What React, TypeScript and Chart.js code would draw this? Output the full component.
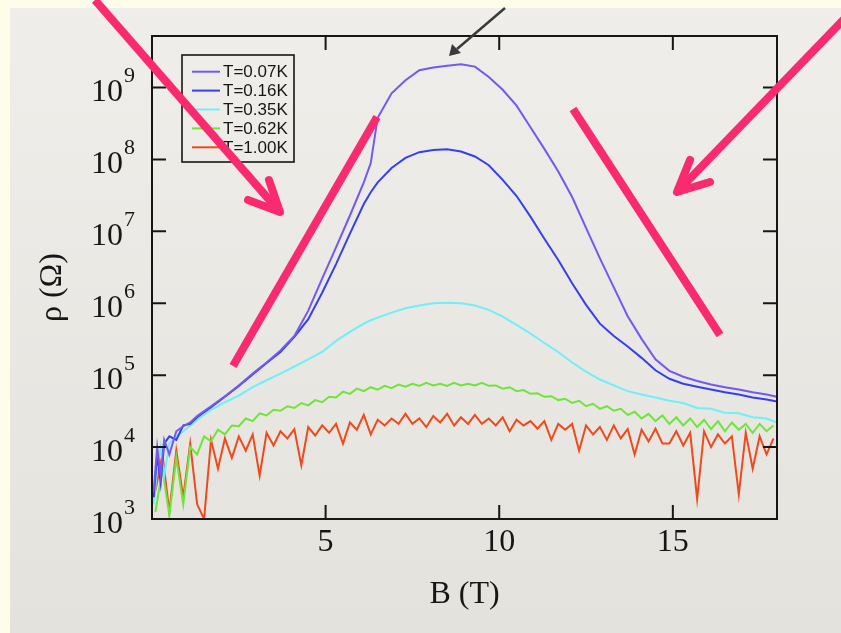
import React, { useEffect, useRef } from "react";
import { Chart, registerables } from "chart.js";

Chart.register(...registerables);

// Magnetic field grid (T) for the smoother low-temperature curves
const bSmooth = [
  0.05, 0.15, 0.25, 0.35, 0.5, 0.7, 0.9, 1.1, 1.3, 1.7, 2.1, 2.5, 2.9, 3.3, 3.7, 4.1, 4.5, 4.9, 5.3, 5.7, 6.1, 6.3,
  6.5, 6.9, 7.3, 7.7, 8.1, 8.5, 8.9, 9.3, 9.7, 10.1, 10.5, 10.9, 11.3, 11.7, 12.1, 12.5, 12.9, 13.3, 13.7, 14.1,
  14.5, 14.9, 15.3, 15.7, 16.1, 16.5, 16.9, 17.3, 17.7, 18.0,
];

// rho (Ohm) at T = 0.07 K
const rho007 = [
  2.5e3, 1.0e4, 4.0e3, 1.26e4, 7.9e3, 1.66e4, 1.95e4, 2.2e4, 2.7e4, 3.7e4, 5.1e4, 7.2e4, 1.05e5, 1.5e5, 2.2e5,
  3.5e5, 7.9e5, 2.2e6, 6.0e6, 1.66e7, 4.8e7, 8.9e7, 3.8e8, 8.3e8, 1.26e9, 1.74e9, 1.9e9, 2.0e9, 2.1e9, 1.95e9,
  1.4e9, 9.3e8, 5.6e8, 2.8e8, 1.4e8, 6.8e7, 3.0e7, 1.12e7, 4.2e6, 1.66e6, 6.6e5, 3.2e5, 1.66e5, 1.15e5, 9.5e4,
  8.3e4, 7.4e4, 6.8e4, 6.3e4, 5.8e4, 5.4e4, 5.0e4,
];

// rho (Ohm) at T = 0.16 K
const rho016 = [
  2.0e3, 7.9e3, 3.2e3, 1.12e4, 1.41e4, 1.26e4, 2.0e4, 2.1e4, 2.6e4, 3.6e4, 5.0e4, 7.1e4, 1.02e5, 1.48e5, 2.1e5,
  3.4e5, 6.0e5, 1.4e6, 3.5e6, 9.3e6, 2.4e7, 3.5e7, 4.8e7, 7.6e7, 1.05e8, 1.26e8, 1.35e8, 1.38e8, 1.29e8, 1.1e8,
  8.3e7, 5.2e7, 3.1e7, 1.6e7, 7.9e6, 4.0e6, 1.9e6, 9.5e5, 5.2e5, 3.5e5, 2.5e5, 1.74e5, 1.17e5, 8.9e4, 7.6e4,
  6.9e4, 6.3e4, 5.8e4, 5.4e4, 4.9e4, 4.6e4, 4.3e4,
];

// rho (Ohm) at T = 0.35 K
const rho035 = [
  1.6e3, 5.0e3, 1.0e4, 4.0e3, 1.12e4, 1.41e4, 1.66e4, 2.0e4, 2.4e4, 3.3e4, 4.2e4, 5.2e4, 6.8e4, 8.5e4, 1.05e5,
  1.32e5, 1.66e5, 2.1e5, 3.0e5, 4.0e5, 5.2e5, 5.8e5, 6.3e5, 7.4e5, 8.5e5, 9.3e5, 1.0e6, 1.02e6, 1.0e6, 9.3e5,
  8.1e5, 6.5e5, 5.0e5, 3.8e5, 2.8e5, 2.1e5, 1.5e5, 1.12e5, 8.7e4, 7.2e4, 6.0e4, 5.4e4, 4.9e4, 4.4e4, 4.1e4,
  3.5e4, 3.4e4, 3.0e4, 2.95e4, 2.6e4, 2.5e4, 2.2e4,
];

// Magnetic field grid (T) for the noisy higher-temperature curves
const bNoisy = [
  0.1, 0.3, 0.5, 0.7, 0.9, 1.1, 1.3, 1.5, 1.7, 1.9,
  2.1, 2.3, 2.5, 2.7, 2.9, 3.1, 3.3, 3.5, 3.7, 3.9,
  4.1, 4.3, 4.5, 4.7, 4.9, 5.1, 5.3, 5.5, 5.7, 5.9,
  6.1, 6.3, 6.5, 6.7, 6.9, 7.1, 7.3, 7.5, 7.7, 7.9,
  8.1, 8.3, 8.5, 8.7, 8.9, 9.1, 9.3, 9.5, 9.7, 9.9,
  10.1, 10.3, 10.5, 10.7, 10.9, 11.1, 11.3, 11.5, 11.7, 11.9,
  12.1, 12.3, 12.5, 12.7, 12.9, 13.1, 13.3, 13.5, 13.7, 13.9,
  14.1, 14.3, 14.5, 14.7, 14.9, 15.1, 15.3, 15.5, 15.7, 15.9,
  16.1, 16.3, 16.5, 16.7, 16.9, 17.1, 17.3, 17.5, 17.7, 17.9,
];

// rho (Ohm) at T = 0.62 K
const rho062 = [
  1.26e3, 5.0e3, 1.12e3, 7.1e3, 1.6e3, 1.0e4, 7.9e3, 1.41e4, 1.2e4, 1.74e4,
  1.5e4, 2.0e4, 1.95e4, 2.5e4, 2.3e4, 2.95e4, 2.75e4, 3.3e4, 3.2e4, 3.7e4,
  3.5e4, 4.1e4, 3.8e4, 4.5e4, 4.2e4, 5.0e4, 4.9e4, 5.9e4, 5.5e4, 6.5e4,
  6.0e4, 6.8e4, 6.3e4, 7.1e4, 6.6e4, 7.4e4, 6.9e4, 7.6e4, 7.1e4, 7.8e4,
  7.2e4, 7.6e4, 7.1e4, 7.8e4, 7.2e4, 7.6e4, 7.2e4, 7.8e4, 7.1e4, 7.2e4,
  6.5e4, 6.8e4, 6.0e4, 6.2e4, 5.5e4, 5.6e4, 5.0e4, 5.1e4, 4.5e4, 4.7e4,
  4.1e4, 4.4e4, 3.7e4, 4.0e4, 3.4e4, 3.7e4, 3.2e4, 3.4e4, 2.8e4, 3.1e4,
  2.5e4, 2.9e4, 2.3e4, 2.75e4, 2.1e4, 2.6e4, 2.0e4, 2.5e4, 1.9e4, 2.4e4,
  1.78e4, 2.3e4, 1.66e4, 2.2e4, 1.74e4, 2.1e4, 1.58e4, 2.1e4, 1.66e4, 2.0e4,
];

// rho (Ohm) at T = 1.00 K
const rho100 = [
  2.5e3, 7.9e3, 1.26e3, 8.9e3, 2.0e3, 1.12e4, 1.6e3, 1.0e3, 1.26e4, 5.0e3,
  1.32e4, 7.1e3, 1.41e4, 8.9e3, 1.5e4, 4.0e3, 1.58e4, 1.05e4, 1.66e4, 1.32e4,
  1.78e4, 5.6e3, 1.9e4, 1.45e4, 2.0e4, 1.58e4, 2.1e4, 1.12e4, 2.2e4, 1.74e4,
  2.8e4, 1.5e4, 2.4e4, 2.0e4, 2.5e4, 2.1e4, 2.9e4, 2.1e4, 2.5e4, 1.9e4,
  2.7e4, 2.2e4, 2.9e4, 2.0e4, 2.6e4, 2.1e4, 2.8e4, 2.1e4, 2.5e4, 2.0e4,
  2.6e4, 1.66e4, 2.4e4, 2.0e4, 2.3e4, 1.8e4, 2.3e4, 1.26e4, 2.1e4, 1.74e4,
  2.1e4, 8.9e3, 2.0e4, 1.5e4, 1.9e4, 1.26e4, 2.0e4, 1.32e4, 1.78e4, 7.9e3,
  1.74e4, 1.2e4, 1.8e4, 1.12e4, 1.12e4, 1.66e4, 1.05e4, 1.58e4, 1.9e3, 1.66e4,
  1.0e4, 1.5e4, 1.12e4, 1.41e4, 2.2e3, 1.58e4, 5.0e3, 1.41e4, 7.9e3, 1.32e4,
];

const seriesLabels = ["T=0.07K", "T=0.16K", "T=0.35K", "T=0.62K", "T=1.00K"];
const seriesColors = ["#7358F2", "#3440EE", "#6FEFF8", "#70E43A", "#EE4A1E"];
const xTickValues = [5, 10, 15];
const yTickExponents = [3, 4, 5, 6, 7, 8, 9];
const xTitle = "B (T)";
const yTitle = "ρ (Ω)";
const X_MIN = 0;
const X_MAX = 18;
const Y_MIN = 1e3;
const Y_MAX = 5.2e9;

const SERIF = '"Liberation Serif", "Times New Roman", serif';
const SANS = '"Liberation Sans", Arial, sans-serif';
const INK = "#161616";

const framePlugin = {
  id: "frameAndLabels",
  afterDatasetsDraw(chart: any) {
    const { ctx, chartArea: a, scales } = chart;
    const xs = scales.x;
    const ys = scales.y;
    ctx.save();
    // frame
    ctx.strokeStyle = INK;
    ctx.lineWidth = 2;
    ctx.strokeRect(a.left, a.top, a.right - a.left, a.bottom - a.top);
    // inward ticks
    const tl = 14;
    ctx.beginPath();
    for (const v of xTickValues) {
      const px = xs.getPixelForValue(v);
      ctx.moveTo(px, a.bottom);
      ctx.lineTo(px, a.bottom - tl);
      ctx.moveTo(px, a.top);
      ctx.lineTo(px, a.top + tl);
    }
    for (const e of yTickExponents) {
      const py = ys.getPixelForValue(Math.pow(10, e));
      if (py >= a.bottom - 1) continue;
      ctx.moveTo(a.left, py);
      ctx.lineTo(a.left + tl, py);
      ctx.moveTo(a.right, py);
      ctx.lineTo(a.right - tl, py);
    }
    ctx.stroke();
    // y tick labels 10^n
    ctx.fillStyle = INK;
    for (const e of yTickExponents) {
      const py = ys.getPixelForValue(Math.pow(10, e));
      ctx.font = `32px ${SERIF}`;
      ctx.textAlign = "right";
      ctx.textBaseline = "alphabetic";
      ctx.fillText("10", a.left - 29, py + 14);
      ctx.font = `22px ${SERIF}`;
      ctx.textAlign = "left";
      ctx.fillText(String(e), a.left - 28, py - 5);
    }
    // y axis title
    ctx.save();
    ctx.translate(53, (a.top + a.bottom) / 2 + 10);
    ctx.rotate(-Math.PI / 2);
    ctx.font = `32px ${SERIF}`;
    ctx.textAlign = "center";
    ctx.textBaseline = "middle";
    ctx.fillText(yTitle, 0, 0);
    ctx.restore();
    // legend
    const lx = a.left + 30;
    const ly = 55;
    ctx.lineWidth = 1.6;
    ctx.strokeStyle = INK;
    ctx.strokeRect(lx, ly, 112, 107);
    chart.data.datasets.forEach((ds: any, i: number) => {
      const ry = ly + 16.7 + i * 18.9;
      ctx.strokeStyle = ds.borderColor;
      ctx.lineWidth = 2;
      ctx.beginPath();
      ctx.moveTo(lx + 10, ry);
      ctx.lineTo(lx + 38, ry);
      ctx.stroke();
      ctx.fillStyle = INK;
      ctx.font = `17px ${SANS}`;
      ctx.textAlign = "left";
      ctx.textBaseline = "middle";
      ctx.fillText(ds.label, lx + 41, ry + 1);
    });
    ctx.restore();
  },
};

const annotationPlugin = {
  id: "annotations",
  afterDraw(chart: any) {
    const ctx = chart.ctx;
    const pink = "rgb(250, 42, 112)";
    ctx.save();
    ctx.strokeStyle = pink;
    ctx.lineWidth = 8;
    ctx.lineCap = "butt";
    const seg = (x1: number, y1: number, x2: number, y2: number) => {
      ctx.beginPath();
      ctx.moveTo(x1, y1);
      ctx.lineTo(x2, y2);
      ctx.stroke();
    };
    // top-left arrow
    seg(95, 0, 279, 211);
    ctx.lineCap = "round";
    ctx.lineJoin = "round";
    ctx.beginPath();
    ctx.moveTo(269, 180);
    ctx.lineTo(280, 212);
    ctx.lineTo(248, 200);
    ctx.stroke();
    // right arrow
    ctx.lineCap = "butt";
    seg(845, 18, 678, 191);
    ctx.lineCap = "round";
    ctx.beginPath();
    ctx.moveTo(690, 160);
    ctx.lineTo(677, 192);
    ctx.lineTo(710, 182);
    ctx.stroke();
    // slope guide lines
    ctx.lineCap = "butt";
    seg(233, 366, 377, 117);
    seg(573, 109, 720, 335);
    // grey arrow
    ctx.strokeStyle = "#3a3a3a";
    ctx.fillStyle = "#3a3a3a";
    ctx.lineWidth = 2.5;
    seg(505, 8, 457, 49);
    ctx.beginPath();
    ctx.moveTo(449, 56);
    ctx.lineTo(452, 44);
    ctx.lineTo(461, 53);
    ctx.closePath();
    ctx.fill();
    ctx.restore();
  },
};

function pairs(xs: number[], ys: number[]) {
  return xs.map((x, i) => ({ x, y: ys[i] }));
}

export default function App() {
  const ref = useRef<HTMLCanvasElement>(null);

  useEffect(() => {
    const canvas = ref.current;
    if (!canvas) return;
    const seriesData = [
      pairs(bSmooth, rho007),
      pairs(bSmooth, rho016),
      pairs(bSmooth, rho035),
      pairs(bNoisy, rho062),
      pairs(bNoisy, rho100),
    ];
    const chart = new Chart(canvas, {
      type: "line",
      data: {
        datasets: seriesData.map((d, i) => ({
          label: seriesLabels[i],
          data: d,
          borderColor: seriesColors[i],
          backgroundColor: seriesColors[i],
          borderWidth: 2,
          pointRadius: 0,
          tension: 0,
          fill: false,
        })),
      },
      options: {
        animation: false,
        responsive: true,
        maintainAspectRatio: false,
        layout: { padding: { top: 36, right: 64, left: 0, bottom: 0 } },
        plugins: { legend: { display: false }, tooltip: { enabled: false } },
        scales: {
          x: {
            type: "linear",
            min: X_MIN,
            max: X_MAX,
            grid: { display: false, drawTicks: false },
            border: { display: false },
            ticks: {
              padding: 4,
              autoSkip: false,
              maxRotation: 0,
              color: INK,
              font: { family: SERIF, size: 32 },
            },
            afterBuildTicks: (s: any) => {
              s.ticks = xTickValues.map((v) => ({ value: v }));
            },
            afterFit: (s: any) => {
              s.height = 114;
            },
            title: {
              display: true,
              text: xTitle,
              color: INK,
              font: { family: SERIF, size: 32 },
              padding: { top: 0, bottom: 19 },
            },
          },
          y: {
            type: "logarithmic",
            min: Y_MIN,
            max: Y_MAX,
            grid: { display: false, drawTicks: false },
            border: { display: false },
            ticks: { display: false },
            afterBuildTicks: (s: any) => {
              s.ticks = yTickExponents.map((e) => ({ value: Math.pow(10, e) }));
            },
            afterFit: (s: any) => {
              s.width = 152;
            },
          },
        },
      } as any,
      plugins: [framePlugin, annotationPlugin],
    });
    return () => chart.destroy();
  }, []);

  return (
    <div
      style={{
        position: "fixed",
        left: 0,
        top: 0,
        width: 841,
        height: 633,
        background: "#FEFDEA",
        overflow: "hidden",
      }}
    >
      <div
        style={{
          position: "absolute",
          left: 10,
          top: 8,
          right: 0,
          bottom: 0,
          background: "linear-gradient(#EFEEEA, #E3E2DD)",
        }}
      />
      <div style={{ position: "absolute", left: 0, top: 0, width: 841, height: 633 }}>
        <canvas ref={ref} />
      </div>
    </div>
  );
}
